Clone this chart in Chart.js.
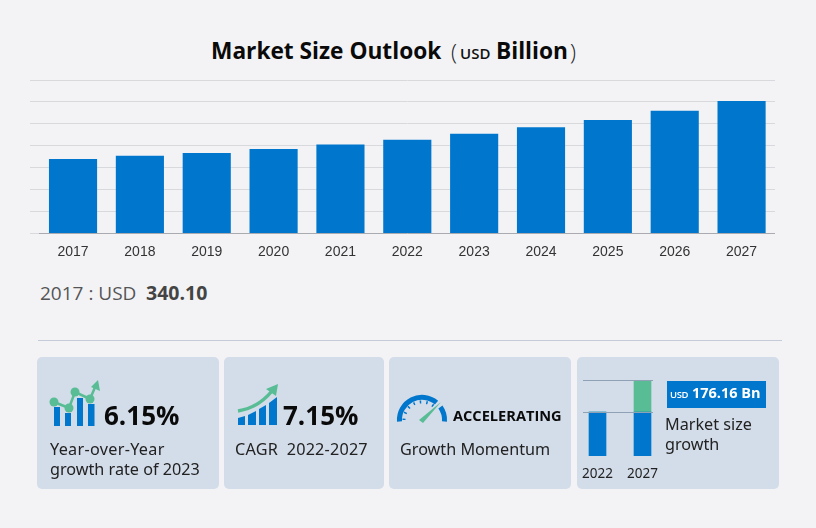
<!DOCTYPE html>
<html>
<head>
<meta charset="utf-8">
<script src="https://cdn.jsdelivr.net/npm/chart.js@4"></script>
<style>
    html, body { margin: 0; padding: 0; }
    body { width: 816px; height: 528px; background: #f3f3f6; position: relative; overflow: hidden; font-family: "Open Sans", sans-serif; }
    .t { position: absolute; white-space: nowrap; line-height: 1; }
    .card { position: absolute; top: 357px; height: 132px; background: #d3dce9; border-radius: 5px; }
    .lbl { color: #222; font-size: 16.2px; font-family: "Noto Sans", sans-serif; }
    .pct { color: #0a0a0a; font-size: 26px; font-weight: 700; }
    svg { position: absolute; left: 0; top: 0; }
</style>
</head>
<body>
<div class="t" style="left:211px;top:40px;font-size:22.7px;font-weight:700;color:#0a0a0a">Market Size Outlook</div>
<div class="t" style="left:451px;top:40px;font-size:22px;font-weight:300;color:#222">(</div>
<div class="t" style="left:460px;top:46px;font-size:15px;font-weight:600;color:#111">USD</div>
<div class="t" style="left:496px;top:40px;font-size:22.7px;font-weight:700;color:#0a0a0a">Billion</div>
<div class="t" style="left:570px;top:40px;font-size:22px;font-weight:300;color:#222">)</div>

<div style="position:absolute;left:30px;top:70px;width:745px;height:200px"><canvas id="graficoMercado"></canvas></div>

<div class="t" style="left:40px;top:284px;font-size:19px;color:#555">2017 : USD</div>
<div class="t" style="left:146px;top:283px;font-size:19.5px;font-weight:700;color:#444">340.10</div>

<div style="position:absolute;left:38px;top:340px;width:744px;height:1px;background:#c6cbda"></div>

<div class="card" style="left:37px;width:182px"></div>
<div class="card" style="left:224px;width:160px"></div>
<div class="card" style="left:389px;width:182px"></div>
<div class="card" style="left:577px;width:202px"></div>

<!-- icones -->
<svg width="816" height="528">
    <g fill="#0077cc">
        <rect x="54" y="407" width="6" height="19"/><rect x="65" y="413" width="6" height="13"/>
        <rect x="77" y="398" width="6" height="28"/><rect x="88" y="404" width="6.5" height="22"/>
        <polygon points="238,418 245,416 245,425 238,425"/><polygon points="248,415 256,411 256,425 248,425"/>
        <polygon points="259,409 266,405 266,425 259,425"/><polygon points="269,403 277,397 277,425 269,425"/>
    </g>
    <g fill="none" stroke="#58bd94" stroke-width="2.5">
        <polyline points="54,402 69,408 75,392 90,399 96,385"/>
        <path d="M238 411 Q258 408 272 391" stroke-width="3.5"/>
    </g>
    <g fill="#58bd94">
        <circle cx="54" cy="402" r="4.5"/><circle cx="69" cy="408" r="4.5"/><circle cx="75" cy="392" r="4.5"/><circle cx="90" cy="399" r="4.5"/>
        <polygon points="98,380 100,391 91,387"/>
        <polygon points="278,384 276,396 266,389"/>
        <polygon points="441,402 423,423 419,420"/>
    </g>
    <path d="M399.5 421.5 A22.5 22.5 0 0 1 436.5 402.7" fill="none" stroke="#0077cc" stroke-width="5"/>
    <path d="M440.4 407 A22.5 22.5 0 0 1 444.5 421.5" fill="none" stroke="#0077cc" stroke-width="5"/>
    <path d="M404 420 A18 18 0 0 1 434 406.5" fill="none" stroke="#0077cc" stroke-width="3" stroke-dasharray="1.5 5"/>
</svg>

<div class="t pct" style="left:104px;top:402px">6.15%</div>
<div class="t lbl" style="left:50px;top:441px;letter-spacing:.3px">Year-over-Year</div>
<div class="t lbl" style="left:50px;top:461px">growth rate of 2023</div>

<div class="t pct" style="left:283px;top:402px">7.15%</div>
<div class="t lbl" style="left:235px;top:441px;letter-spacing:.2px">CAGR&nbsp; 2022-2027</div>

<div class="t" style="left:453px;top:408px;font-size:14.6px;font-weight:700;color:#0a0a0a">ACCELERATING</div>
<div class="t lbl" style="left:400px;top:441px">Growth Momentum</div>

<div style="position:absolute;left:575px;top:370px;width:90px;height:110px"><canvas id="graficoPequeno"></canvas></div>
<div style="position:absolute;left:667px;top:381px;width:99px;height:27px;background:#0077cc"></div>
<div class="t" style="left:670px;top:390px;font-size:9.5px;font-weight:600;letter-spacing:-.4px;color:#fff">USD</div>
<div class="t" style="left:692px;top:386px;font-size:14.5px;font-weight:700;color:#fff">176.16 Bn</div>
<div class="t lbl" style="left:665px;top:416px">Market size</div>
<div class="t lbl" style="left:665px;top:436px">growth</div>

<script>
const anos = ['2017', '2018', '2019', '2020', '2021', '2022', '2023', '2024', '2025', '2026', '2027'];
const tamanhoMercado = [340.1, 354, 367.5, 385.8, 405.5, 428, 454.6, 485, 518, 559.6, 604.5];

// mini grafico do ultimo cartao, altura relativa (nao esta em escala com o grafico principal)
const anosPequeno = ['2022', '2027'];
const baseMercado = [100, 100];
const crescimentoMercado = [0, 73];
const linhasPequeno = [100, 173];

const azul = '#0077cc';
const verde = '#58bd94';

new Chart(document.getElementById('graficoMercado'), {
    type: 'bar',
    data: {
        labels: anos,
        datasets: [{ data: tamanhoMercado, backgroundColor: azul, barPercentage: 0.72, categoryPercentage: 1 }]
    },
    options: {
        responsive: true,
        maintainAspectRatio: false,
        animation: false,
        layout: { padding: { top: 10, left: 0, right: 0, bottom: 0 } },
        plugins: { legend: { display: false }, tooltip: { enabled: false } },
        scales: {
            x: {
                grid: { display: false },
                border: { color: '#a9abb0' },
                ticks: { color: '#333', font: { family: 'Liberation Sans', size: 14 }, padding: 2, maxRotation: 0 },
                afterFit: function(scale) { scale.height = 36.5; }
            },
            y: {
                min: 0,
                max: 700,
                grid: { color: '#d8d9dd', tickLength: 10 },
                border: { display: false },
                ticks: { display: false, stepSize: 100 },
                afterFit: function(scale) { scale.width = 9.6; }
            }
        }
    }
});

// as linhas do mini grafico sao mais curtas que a area do grafico
const linhasCurtas = {
    id: 'linhasCurtas',
    afterDatasetsDraw: function(chart) {
        const ctx = chart.ctx;
        ctx.save();
        ctx.strokeStyle = '#8fa1b5';
        ctx.lineWidth = 1;
        linhasPequeno.forEach(function(v) {
            const y = Math.round(chart.scales.y.getPixelForValue(v)) + 0.5;
            ctx.beginPath();
            ctx.moveTo(chart.chartArea.left + 8, y);
            ctx.lineTo(chart.chartArea.right - 12, y);
            ctx.stroke();
        });
        ctx.restore();
    }
};

new Chart(document.getElementById('graficoPequeno'), {
    type: 'bar',
    data: {
        labels: anosPequeno,
        datasets: [
            { data: baseMercado, backgroundColor: azul, stack: 'a', barThickness: 17 },
            { data: crescimentoMercado, backgroundColor: verde, stack: 'a', barThickness: 17 }
        ]
    },
    options: {
        responsive: true,
        maintainAspectRatio: false,
        animation: false,
        layout: { padding: { top: 10, left: 0, right: 0, bottom: 0 } },
        plugins: { legend: { display: false }, tooltip: { enabled: false } },
        scales: {
            x: {
                stacked: true,
                grid: { display: false },
                border: { display: false },
                ticks: { color: '#222', font: { family: 'Noto Sans', size: 13.5 }, padding: 2, maxRotation: 0 },
                afterFit: function(scale) { scale.height = 24; }
            },
            y: {
                stacked: true,
                min: 0,
                max: 173,
                grid: { display: false },
                border: { display: false },
                ticks: { display: false },
                afterFit: function(scale) { scale.width = 0; }
            }
        }
    },
    plugins: [linhasCurtas]
});
</script>
</body>
</html>
